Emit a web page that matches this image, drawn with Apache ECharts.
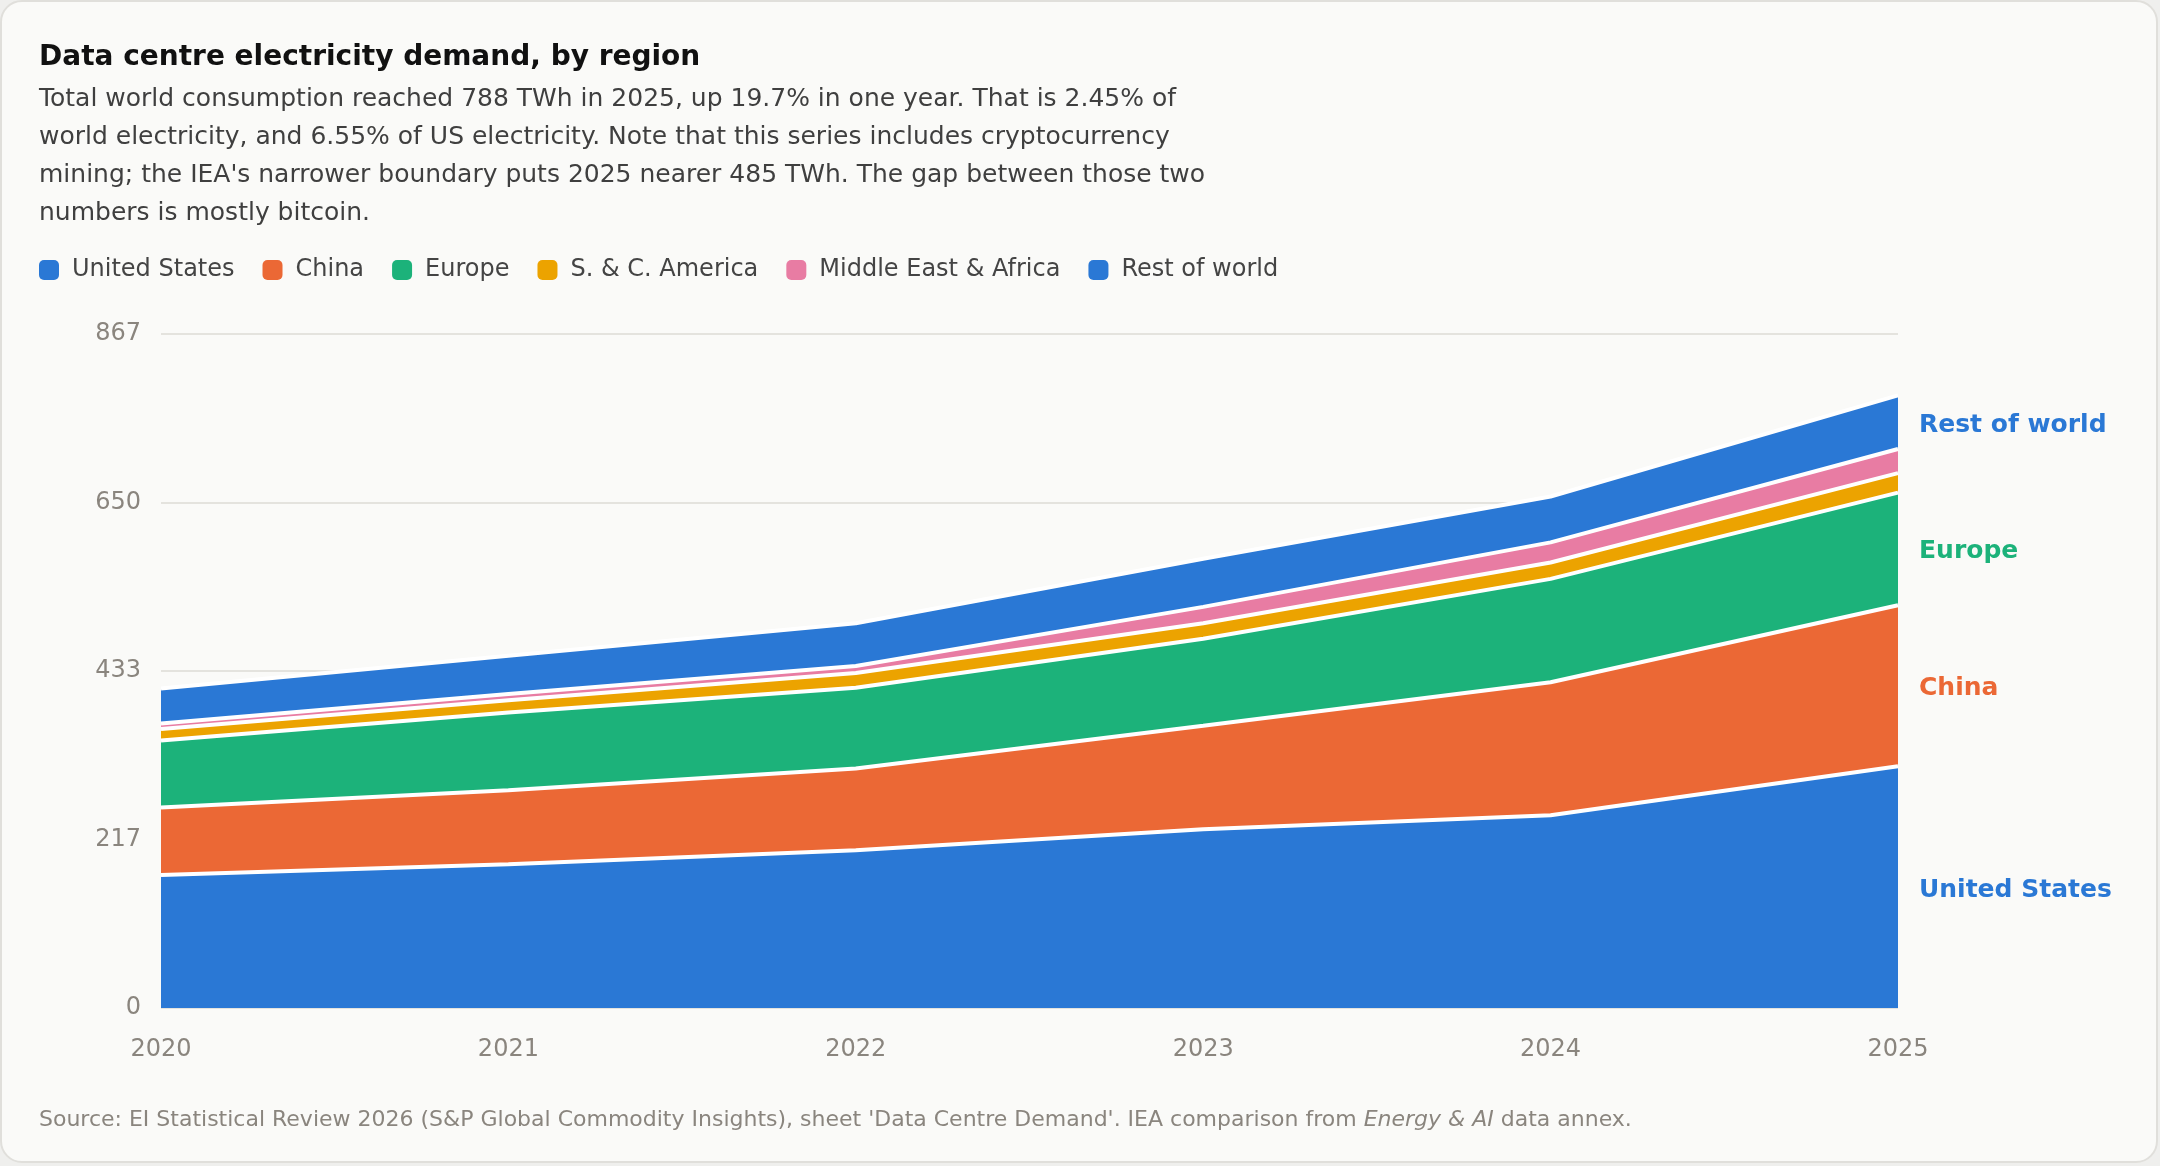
<!DOCTYPE html>
<html>
<head>
<meta charset="utf-8">
<script src="https://cdn.jsdelivr.net/npm/echarts@6/dist/echarts.min.js"></script>
<style>
  html, body { margin: 0; padding: 0; background: #efefed; width: 2160px; height: 1166px; overflow: hidden; }
  #card { position: absolute; left: 0; top: 0; width: 2158px; height: 1163px; box-sizing: border-box;
          border: 2px solid #e0dfdb; border-radius: 22px; background: #fafaf8; overflow: hidden; }
  #chart { width: 2154px; height: 1159px; }
</style>
</head>
<body>
<div id="card"><div id="chart"></div></div>
<script>
const years = ['2020', '2021', '2022', '2023', '2024', '2025'];
const unitedStates = [171, 185, 203, 230, 248, 311];
const china = [87, 95, 105, 133, 171, 207];
const europe = [86, 100, 104, 112, 133, 145];
const scAmerica = [15, 16, 19, 20, 21, 25];
const middleEastAfrica = [7, 8, 9, 21, 26, 31];
const restOfWorld = [45, 49, 55, 62, 59, 69];
const yTickLabels = ['0', '217', '433', '650', '867'];
const seriesNames = ['United States', 'China', 'Europe', 'S. & C. America', 'Middle East & Africa', 'Rest of world'];
const seriesColors = ['#2a78d5', '#eb6835', '#1cb27a', '#eca300', '#e87ca3', '#2a78d5'];
const labelledSeries = ['United States', 'China', 'Europe', 'Rest of world'];

const titleText = 'Data centre electricity demand, by region';
const subtitleText = "Total world consumption reached 788 TWh in 2025, up 19.7% in one year. That is 2.45% of\nworld electricity, and 6.55% of US electricity. Note that this series includes cryptocurrency\nmining; the IEA's narrower boundary puts 2025 nearer 485 TWh. The gap between those two\nnumbers is mostly bitcoin.";
const sourceText = "Source: EI Statistical Review 2026 (S&P Global Commodity Insights), sheet 'Data Centre Demand'. IEA comparison from {i|Energy & AI} data annex.";

const allValues = [unitedStates, china, europe, scAmerica, middleEastAfrica, restOfWorld];
const FONT = 'DejaVu Sans';
const yMax = 867, yInterval = 216.75;

const chart = echarts.init(document.getElementById('chart'), null, { renderer: 'canvas' });

const areaSeries = seriesNames.map((name, i) => ({
  name: name,
  type: 'line',
  stack: 'total',
  data: allValues[i],
  showSymbol: false,
  symbol: 'none',
  z: 10 - i,
  lineStyle: { color: '#ffffff', width: 4 },
  itemStyle: { color: seriesColors[i] },
  areaStyle: { color: seriesColors[i], opacity: 1 },
  emphasis: { disabled: true },
  silent: true
}));

const last = years.length - 1;
const labelSeries = seriesNames.map((name, i) => {
  if (labelledSeries.indexOf(name) < 0) return null;
  let below = 0;
  for (let k = 0; k < i; k++) below += allValues[k][last];
  const mid = below + allValues[i][last] / 2;
  return {
    name: 'label-' + name,
    type: 'scatter',
    data: [[years[last], mid]],
    symbolSize: 0,
    z: 20,
    silent: true,
    itemStyle: { color: seriesColors[i], opacity: 1 },
    emphasis: { disabled: true },
    label: {
      show: true,
      position: 'right',
      distance: 21,
      offset: [0, 3],
      opacity: 1,
      formatter: name,
      color: seriesColors[i],
      fontFamily: FONT,
      fontWeight: 'bold',
      fontSize: 25
    }
  };
}).filter(Boolean);

const option = {
  backgroundColor: 'transparent',
  animation: false,
  textStyle: { fontFamily: FONT },
  title: [
    { text: titleText, left: 37, top: 42, padding: 0,
      textStyle: { fontFamily: FONT, fontSize: 28, fontWeight: 'bold', color: '#111111', lineHeight: 28 } },
    { text: subtitleText, left: 37, top: 78, padding: 0,
      textStyle: { fontFamily: FONT, fontSize: 25, fontWeight: 'normal', color: '#3f3f3f', lineHeight: 38 } },
    { text: sourceText, left: 37, top: 1107, padding: 0,
      textStyle: { fontFamily: FONT, fontSize: 22, fontWeight: 'normal', color: '#8a857e', lineHeight: 22,
        rich: { i: { fontFamily: FONT, fontSize: 22, fontStyle: 'italic', color: '#8a857e' } } } }
  ],
  legend: {
    data: seriesNames,
    left: 37,
    top: 256,
    padding: 0,
    itemGap: 28,
    itemWidth: 20,
    itemHeight: 20,
    icon: 'path://M5,0 H15 A5,5 0 0 1 20,5 V15 A5,5 0 0 1 15,20 H5 A5,5 0 0 1 0,15 V5 A5,5 0 0 1 5,0 Z',
    selectedMode: false,
    textStyle: { fontFamily: FONT, fontSize: 24, color: '#444444', padding: [0, 0, 0, 8] }
  },
  grid: { left: 159, right: 258, top: 332, bottom: 153, containLabel: false },
  xAxis: {
    type: 'category',
    data: years,
    boundaryGap: false,
    axisLine: { show: false },
    axisTick: { show: false },
    splitLine: { show: false },
    axisLabel: { color: '#8a857e', fontFamily: FONT, fontSize: 24, margin: 30 }
  },
  yAxis: {
    type: 'value',
    min: 0,
    max: yMax,
    interval: yInterval,
    axisLine: { show: false },
    axisTick: { show: false },
    splitLine: { lineStyle: { color: '#e4e3de', width: 2 } },
    axisLabel: {
      color: '#8a857e', fontFamily: FONT, fontSize: 24, margin: 20,
      padding: [4, 0, 0, 0],
      formatter: v => yTickLabels[Math.round(v / yInterval)]
    }
  },
  series: areaSeries.concat(labelSeries)
};
chart.setOption(option);
</script>
</body>
</html>
